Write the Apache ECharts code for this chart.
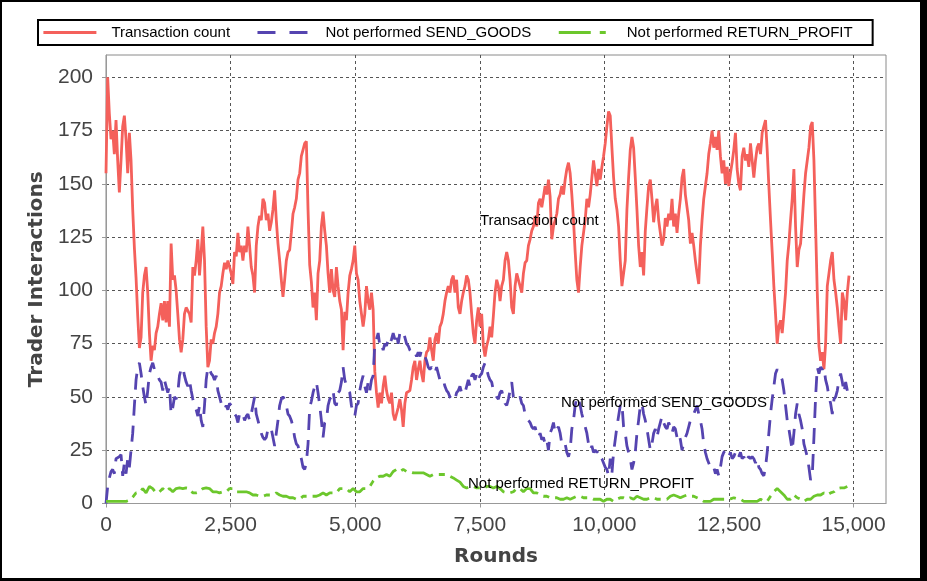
<!DOCTYPE html>
<html><head><meta charset="utf-8">
<script src="https://cdn.jsdelivr.net/npm/echarts@6/dist/echarts.min.js"></script>
<style>html,body{margin:0;padding:0;background:#fff}#c{width:927px;height:581px}</style>
</head><body><div id="c"></div>
<script>
// Sampling interval (rounds) of the recorded series
const sampleInterval = 33.5;
const profitInterval = 67;

const seriesNames = ['Transaction count', 'Not performed SEND_GOODS', 'Not performed RETURN_PROFIT'];
const xTickLabels = [0, 2500, 5000, 7500, 10000, 12500, 15000];
const yTickLabels = [0, 25, 50, 75, 100, 125, 150, 175, 200];

const transactionCount = [
155,200,183,171,175,164,180,161,146,161,
177,182,171,155,174,161,138,120,106,88,
73,78,99,107,111,99,80,67,74,72,
80,83,89,94,86,95,85,95,83,122,
105,107,100,89,77,71,77,89,92,92,
89,85,111,107,114,124,107,118,130,114,
83,64,67,77,75,80,83,89,99,102,
108,113,110,114,111,108,103,118,116,127,
118,121,114,121,118,130,121,111,107,99,
121,130,135,133,143,141,133,136,128,132,
138,147,133,122,114,105,97,105,114,118,
119,127,136,139,143,152,155,163,166,169,
170,138,112,104,92,99,86,108,114,130,
137,128,121,108,99,110,100,97,111,102,
95,91,72,90,86,99,107,110,114,121,
108,105,95,89,83,
89,102,95,91,99,91,62,52,45,52,
47,55,60,53,49,47,52,42,39,42,
45,49,44,36,47,52,52,53,58,64,
67,58,63,67,61,57,67,71,72,78,
72,67,77,80,75,83,85,89,95,99,
102,99,105,107,99,105,92,89,95,99,
102,107,105,99,89,80,75,86,92,83,
89,74,69,74,77,83,78,88,99,105,
102,95,102,105,114,118,114,105,92,89,
102,108,105,102,99,108,113,114,121,124,
128,130,135,130,141,143,139,144,149,145,
152,144,124,130,130,136,143,145,149,145,
152,157,160,155,145,133,118,105,99,111,
121,127,133,143,139,145,153,161,155,149,
157,152,158,163,169,177,184,182,167,153,
143,138,130,114,102,
102,114,138,153,166,172,167,153,138,121,
111,118,107,128,139,149,152,143,132,139,
143,133,127,121,124,134,130,136,133,143,
130,136,127,136,143,153,157,145,139,133,
122,127,121,114,108,103,121,133,143,149,
155,164,169,175,167,172,166,175,163,155,
161,150,158,149,155,160,166,174,157,150,
147,163,167,161,164,158,169,161,153,161,
167,169,164,174,177,180,166,149,133,118,
102,89,75,83,86,80,89,99,114,122,
133,143,157,130,111,119,122,133,145,155,
161,167,177,179,161,130,99,74,67,71,
63,75,102,108,114,118,105,99,92,83,
75,99,95,86,99,107
];

const sendGoodsNotPerformed = [
0,8,12,15,16,14,21,21,22,23,
13,19,14,21,17,25,33,46,58,64,
66,61,55,50,46,53,61,64,66,63,
61,60,58,57,53,58,55,52,55,42,
45,50,49,52,60,63,64,60,57,55,
58,53,49,46,44,41,46,39,36,46,
58,64,63,61,60,58,60,53,50,47,
46,44,46,44,47,46,46,42,41,38,
42,41,42,39,41,42,39,42,46,50,
42,39,36,33,31,30,31,35,36,35,
31,27,33,39,46,49,50,49,46,42,
41,39,36,31,28,27,24,21,17,16,
19,28,45,48,52,55,57,52,46,39,
31,38,39,46,49,50,53,47,46,52,
53,57,64,58,58,53,52,46,42,41,
46,47,53,57,60,
55,52,57,53,58,60,75,77,80,74,
75,72,75,74,77,75,77,80,77,80,
75,80,80,81,78,75,74,72,71,72,
71,69,71,69,72,71,69,67,64,63,
64,63,61,64,61,58,57,58,55,53,
52,50,49,50,49,52,53,55,52,53,
52,55,58,55,60,61,58,61,58,60,
61,64,66,63,60,58,57,53,52,50,
49,52,53,50,47,46,49,53,57,50,
49,50,49,50,47,46,42,41,39,38,
36,35,36,33,31,33,30,31,28,30,
25,33,35,38,33,35,36,33,28,27,
28,24,22,25,35,39,46,50,49,46,
42,39,36,33,28,25,27,24,25,24,
25,22,21,19,17,16,13,21,14,24,
30,36,41,46,47,
36,33,27,24,21,16,19,24,33,39,
46,47,42,39,35,30,25,28,33,35,
31,35,38,41,38,36,35,38,36,33,
36,35,31,33,30,25,28,31,33,36,
39,41,42,44,46,42,39,35,28,24,
21,19,17,16,17,14,16,13,17,22,
24,25,24,22,24,21,22,24,25,22,
24,21,22,19,21,22,21,22,21,19,
21,17,16,14,13,17,24,33,42,49,
55,61,63,61,60,58,53,46,39,35,
30,25,33,42,47,42,39,35,28,25,
22,17,11,13,31,50,64,61,64,63,
64,58,55,50,47,42,49,50,53,58,
61,57,52,57,53,49
];

const returnProfitNotPerformed = [
1,1,1,1,1,1,1,1.5,3,5,
5,7,5,8,7,5,5.5,7,5.5,7,
5.5,7,7.3,7,7.3,7,5,5,5.5,7,
7.3,7,5.5,5.5,5,5.5,5.5,7,7,5.5,
5.5,5.5,5.5,5,4,4,3.4,3.4,4,4,
4,5,4,3.4,3.4,2.7,2.7,2,2,3.4,
3.4,3.4,3.4,3.4,4,5,4,5,5,5,
7,7,7,5.5,7,5.5,5.5,7,
7,8,10.5,12,12.8,12.8,13.6,12.8,15,16,
15,16,15,15,14.4,14.4,14.4,14.4,13.6,12.8,
13.6,13.6,13.6,13.6,13.6,12.8,12,11,10,8,
7.3,8,8,7.3,7.3,7,8,8,7.3,8,
7,5.5,5,5,5.5,7,7,5.5,7,7,
5,5,4,3.4,3.4,2.7,2.7,2.7,2,2,
2.7,2,2.7,3.4,3.4,2.7,2.7,2.7,2,2,
2,1,2,2,1,2,2.7,
2.7,2,2.7,2,3.4,2.7,2,2,2.7,2.7,
2,2,2,2,3.4,4,3.4,2.7,3.4,4,
3.4,3.4,2.7,2,1,1,1,2,2,2,
2,2,2.2,2.7,2.2,2,1,1,1,1,
1,2,1,1,3.4,5.5,7,5.5,4,2,
2,4,2.7,2,1,2,2,3.4,4,4,
5,4,5,5.5,7,7.3,7.3,8
];

function toPairs(values, step) { return values.map((v, i) => [i * step, v]); }

const chart = echarts.init(document.getElementById('c'), null, { renderer: 'canvas' });
const tickFont = 'Liberation Sans';
const annotFont = '15px "Liberation Sans", Arial, sans-serif';
const colors = ['#f4605b', '#5544b0', '#6cc72c'];

chart.setOption({
  animation: false,
  backgroundColor: '#fff',
  legend: {
    left: 38, top: 20,
    itemWidth: 53, itemHeight: 14, itemGap: 26,
    padding: [5, 20, 5, 4],
    borderColor: '#000', borderWidth: 2,
    itemStyle: { opacity: 0, borderWidth: 0 },
    textStyle: { fontFamily: tickFont, fontSize: 15, color: '#000', padding: [0, 0, 0, 10] },
    data: [
      { name: seriesNames[0], itemStyle: { opacity: 0 }, lineStyle: { color: colors[0], width: 2.8, type: 'solid' } },
      { name: seriesNames[1], itemStyle: { opacity: 0 }, lineStyle: { color: colors[1], width: 2.8, type: [18, 14] } },
      { name: seriesNames[2], itemStyle: { opacity: 0 }, lineStyle: { color: colors[2], width: 2.8, type: [32, 9, 6, 9] } }
    ]
  },
  grid: { left: 106, right: 41, top: 55, bottom: 77.5, show: true, borderColor: '#8a8a8a', borderWidth: 1, backgroundColor: '#fff' },
  xAxis: {
    type: 'value', min: 0, max: 15650, interval: 2500,
    offset: 4,
    name: 'Rounds', nameLocation: 'middle', nameGap: 39,
    nameTextStyle: { fontFamily: 'DejaVu Sans', fontWeight: 'bold', fontSize: 20, color: '#444' },
    axisLine: { show: true, lineStyle: { color: '#999', width: 1 } },
    axisTick: { show: true, length: 4, lineStyle: { color: '#999' }, customValues: xTickLabels },
    axisLabel: {
      margin: 7, fontFamily: tickFont, fontSize: 21, color: '#444',
      customValues: xTickLabels,
      formatter: v => Number(v).toLocaleString('en-US')
    },
    splitLine: { show: true, lineStyle: { color: '#555', type: [3, 3], width: 1 } }
  },
  yAxis: {
    type: 'value', min: 0, max: 210.5, interval: 25,
    offset: 5,
    name: 'Trader Interactions', nameLocation: 'middle', nameGap: 52, nameRotate: 90,
    nameTextStyle: { fontFamily: 'DejaVu Sans', fontWeight: 'bold', fontSize: 20, color: '#444' },
    axisLine: { show: true, lineStyle: { color: '#999', width: 1 } },
    axisTick: { show: true, length: 4, lineStyle: { color: '#999' }, customValues: yTickLabels },
    axisLabel: {
      margin: 8, fontFamily: tickFont, fontSize: 21, color: '#444',
      customValues: yTickLabels,
      formatter: v => String(v)
    },
    splitLine: { show: true, lineStyle: { color: '#555', type: [3, 3], width: 1 } }
  },
  series: [
    { name: seriesNames[0], type: 'line', symbol: 'none', showSymbol: false,
      data: toPairs(transactionCount, sampleInterval),
      lineStyle: { color: colors[0], width: 2.8, type: 'solid' }, itemStyle: { color: colors[0] } },
    { name: seriesNames[1], type: 'line', symbol: 'none', showSymbol: false,
      data: toPairs(sendGoodsNotPerformed, sampleInterval),
      lineStyle: { color: colors[1], width: 2.8, type: [16, 10] }, itemStyle: { color: colors[1] } },
    { name: seriesNames[2], type: 'line', symbol: 'none', showSymbol: false,
      data: toPairs(returnProfitNotPerformed, profitInterval),
      lineStyle: { color: colors[2], width: 2.8, type: [22, 6, 6, 6] }, itemStyle: { color: colors[2] } }
  ],
  graphic: [
    { type: 'text', left: 480, top: 213, z: 100, style: { text: 'Transaction count', font: annotFont, fill: '#000' } },
    { type: 'text', left: 561, top: 395, z: 100, style: { text: 'Not performed SEND_GOODS', font: annotFont, fill: '#000' } },
    { type: 'text', left: 468, top: 476, z: 100, style: { text: 'Not performed RETURN_PROFIT', font: annotFont, fill: '#000' } },
    { type: 'rect', z: 100, shape: { x: 0, y: 0, width: 927, height: 2 }, style: { fill: '#000' } },
    { type: 'rect', z: 100, shape: { x: 0, y: 0, width: 2, height: 581 }, style: { fill: '#000' } },
    { type: 'rect', z: 100, shape: { x: 920, y: 0, width: 7, height: 581 }, style: { fill: '#000' } },
    { type: 'rect', z: 100, shape: { x: 0, y: 578, width: 927, height: 3 }, style: { fill: '#000' } }
  ]
});
</script>
</body></html>
